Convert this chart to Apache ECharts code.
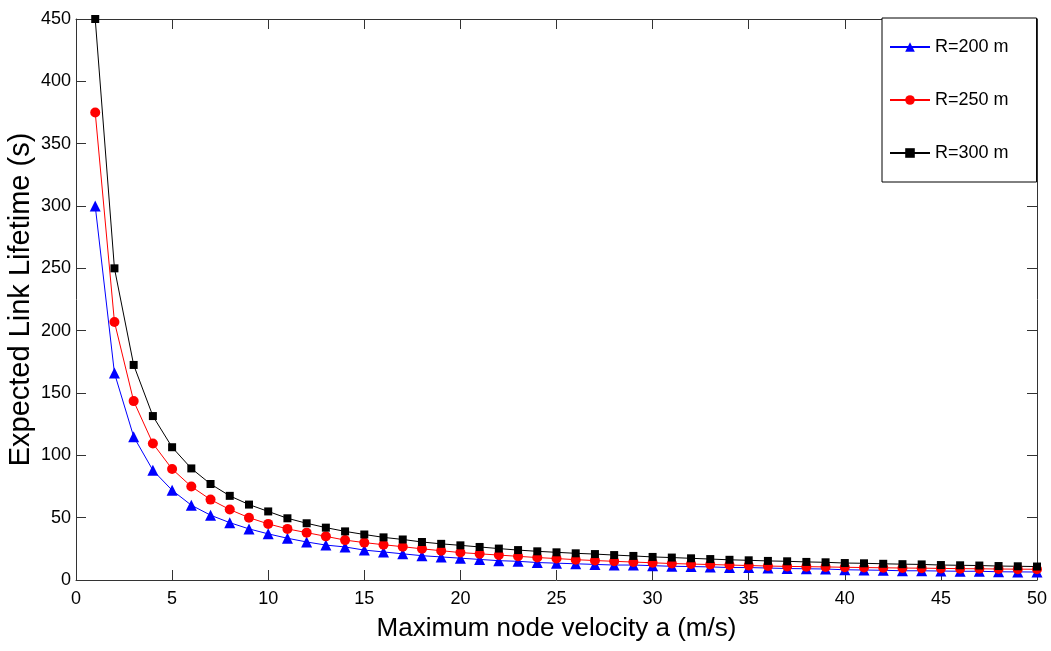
<!DOCTYPE html>
<html>
<head>
<meta charset="utf-8">
<script src="https://cdn.jsdelivr.net/npm/echarts@6/dist/echarts.min.js"></script>
<style>
  html, body { margin: 0; padding: 0; background: #fff; }
  #chart { width: 1051px; height: 651px; }
</style>
</head>
<body>
<div id="chart"></div>
<script>
// maximum node velocity a (m/s)
var velocity = [1, 2, 3, 4, 5, 6, 7, 8, 9, 10,
  11, 12, 13, 14, 15, 16, 17, 18, 19, 20,
  21, 22, 23, 24, 25, 26, 27, 28, 29, 30,
  31, 32, 33, 34, 35, 36, 37, 38, 39, 40,
  41, 42, 43, 44, 45, 46, 47, 48, 49, 50];

var r200 = [300, 166, 115, 88, 72, 60, 52, 46, 41, 37,
  33.5, 30.5, 28, 26.5, 24, 22.5, 21, 19.5, 18.5, 17.5,
  16.5, 15.5, 15, 14, 13.5, 13, 12.5, 12, 12, 11.5,
  11, 10.8, 10.5, 10, 10, 9.6, 9.2, 9, 8.8, 8.2,
  8, 7.8, 7.4, 7.4, 7.2, 7, 7, 6.6, 6.5, 6.4];

var r250 = [375, 207, 143.5, 109.5, 89, 75, 64.5, 56.5, 50, 45,
  41, 38, 35, 32, 30, 28.3, 26.7, 25, 23.5, 22,
  21, 20, 19, 18, 17.2, 16.3, 15.6, 15, 14.4, 13.8,
  13.2, 12.8, 12.4, 12, 11.6, 11.2, 10.9, 10.7, 10.5, 10.2,
  10, 9.8, 9.6, 9.5, 9.3, 9.1, 9, 8.8, 8.7, 8.6];

var r300 = [450, 250, 172.5, 131.5, 106.5, 89.5, 77, 67.5, 60.5, 55,
  49.5, 45.5, 42, 39, 36.5, 34.2, 32.5, 30.5, 29, 27.8,
  26.5, 25.2, 24, 23, 22.2, 21.4, 20.8, 20, 19.3, 18.5,
  18, 17.4, 16.8, 16.2, 15.8, 15.3, 15, 14.5, 14.2, 13.6,
  13.4, 13, 12.7, 12.5, 12, 11.8, 11.6, 11.2, 11, 10.8];

var font = "'Liberation Sans', Arial, sans-serif";

function pairs(vals) {
  return velocity.map(function (v, i) { return [v, vals[i]]; });
}

function boxAxis(pos, min, max, step, labels, name, gap, nameSize) {
  return {
    type: 'value',
    position: pos,
    min: min,
    max: max,
    interval: step,
    name: name,
    nameLocation: 'middle',
    nameGap: gap,
    nameMoveOverlap: false,
    nameTextStyle: { fontFamily: font, fontSize: nameSize, color: '#000' },
    axisLine: { show: true, onZero: false, lineStyle: { color: '#333', width: 1 } },
    axisTick: { show: true, inside: true, length: 10, lineStyle: { color: '#333' } },
    axisLabel: { show: labels, fontFamily: font, fontSize: 18, color: '#000',
      margin: (pos == 'bottom' ? 10 : 5) },
    splitLine: { show: false }
  };
}

var chart = echarts.init(document.getElementById('chart'));

var option = {
  backgroundColor: '#fff',
  animation: false,
  grid: { left: 76, right: 14, top: 19, bottom: 71, outerBoundsMode: 'none', containLabel: false },
  xAxis: [
    boxAxis('bottom', 0, 50, 5, true, 'Maximum node velocity a (m/s)', 36, 26),
    boxAxis('top', 0, 50, 5, false, '', 0, 12)
  ],
  yAxis: [
    boxAxis('left', 0, 450, 50, true, 'Expected Link Lifetime (s)', 41, 29),
    boxAxis('right', 0, 450, 50, false, '', 0, 12)
  ],
  legend: {
    orient: 'vertical',
    left: 882,
    top: 18,
    width: 154,
    backgroundColor: '#fff',
    borderColor: '#000',
    borderWidth: 1,
    padding: [20, 28, 20, 7],
    itemGap: 35,
    itemWidth: 40,
    itemHeight: 12,
    textStyle: { fontFamily: font, fontSize: 18, color: '#000' },
    data: ['R=200 m', 'R=250 m', 'R=300 m']
  },
  series: [
    {
      name: 'R=200 m',
      type: 'line',
      data: pairs(r200),
      color: '#0000ff',
      symbol: 'triangle',
      symbolSize: 11,
      lineStyle: { width: 1 },
      clip: false
    },
    {
      name: 'R=250 m',
      type: 'line',
      data: pairs(r250),
      color: '#ff0000',
      symbol: 'circle',
      symbolSize: 10,
      lineStyle: { width: 1 },
      clip: false
    },
    {
      name: 'R=300 m',
      type: 'line',
      data: pairs(r300),
      color: '#000000',
      symbol: 'rect',
      symbolSize: 8,
      lineStyle: { width: 1 },
      clip: false
    }
  ]
};

chart.setOption(option);
</script>
</body>
</html>
